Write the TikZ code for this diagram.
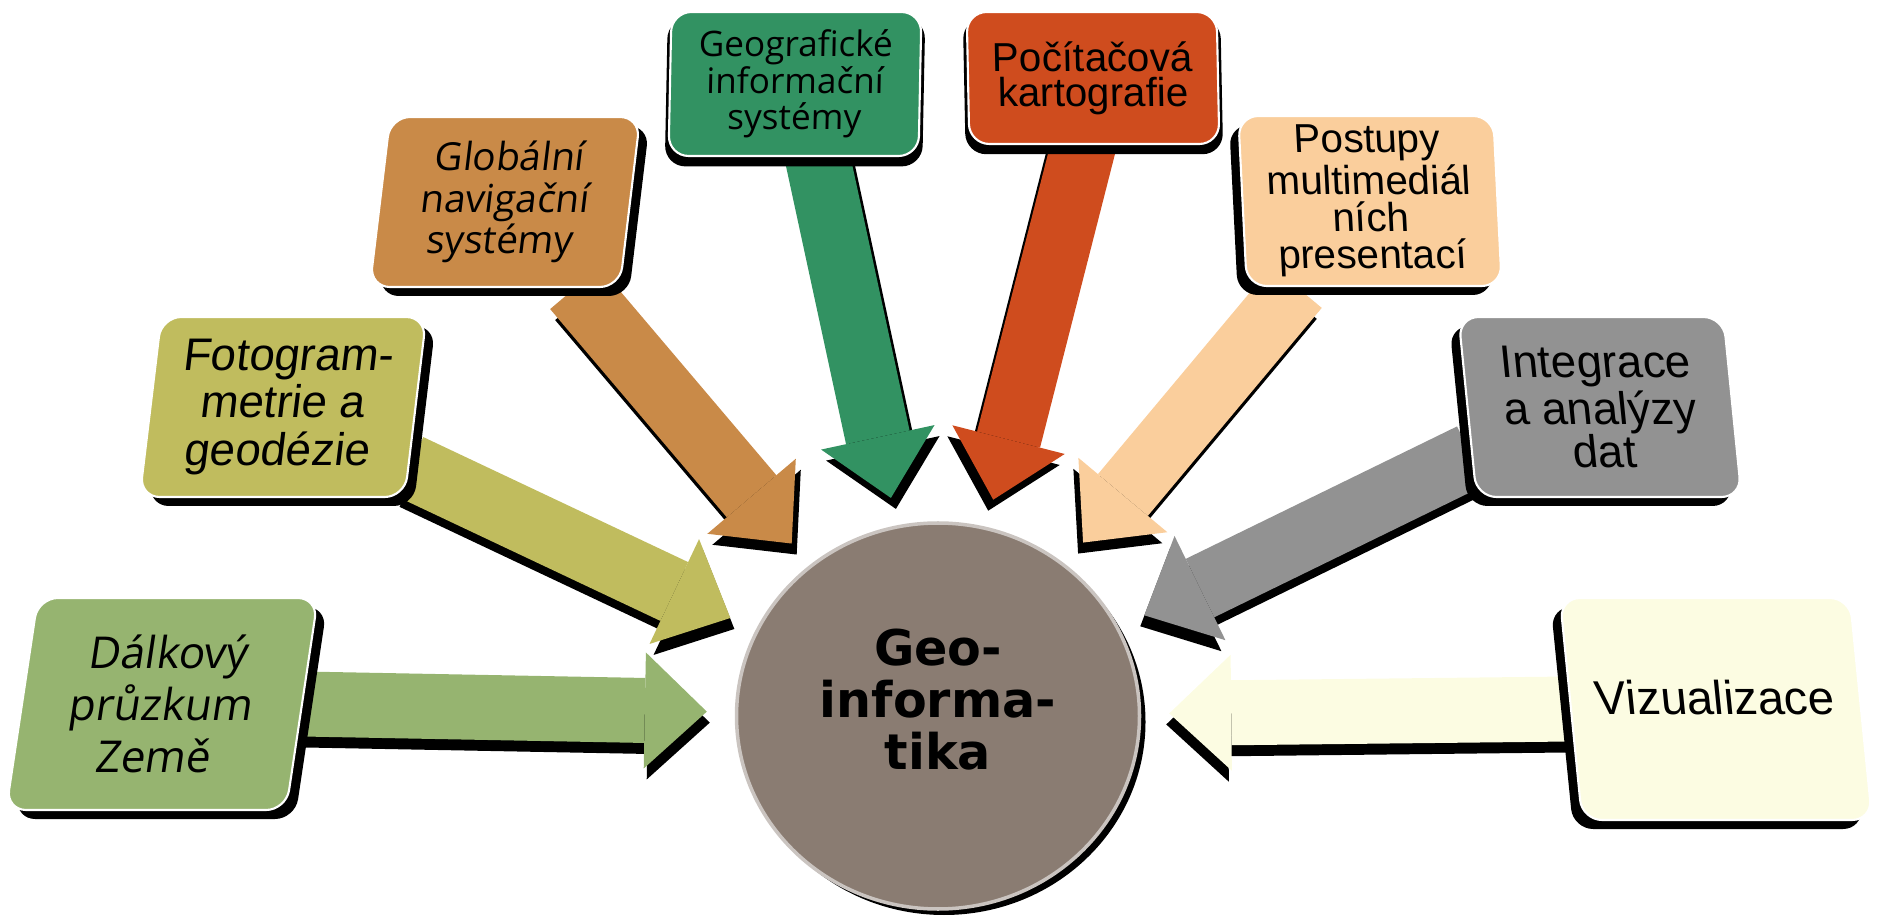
\documentclass[tikz,border=0pt]{standalone}
\usepackage{fontspec}
\setmainfont{Liberation Sans}
\newfontfamily\osfont{Open Sans}
\newfontfamily\geofont{DejaVu Sans}
\usepackage{tikz}
\usetikzlibrary{arrows.meta,shapes.geometric,shadows}
\pgfdeclarelayer{background}
\pgfsetlayers{background,main}

\definecolor{dalkcol}{RGB}{150,180,112}
\definecolor{fotocol}{RGB}{192,188,94}
\definecolor{globcol}{RGB}{201,138,72}
\definecolor{giscol}{RGB}{50,146,98}
\definecolor{kartocol}{RGB}{207,76,30}
\definecolor{multicol}{RGB}{250,206,156}
\definecolor{integcol}{RGB}{146,146,146}
\definecolor{vizucol}{RGB}{252,252,226}
\definecolor{geocol}{RGB}{138,124,114}

\tikzstyle{tile} = [rectangle, rounded corners=2mm, inner sep=0pt, align=center,
draw=white, line width=0.6pt]
\tikzstyle{lefttile} = [tile, drop shadow={shadow xshift=0.9mm, shadow yshift=-0.9mm, fill=black, opacity=1}]
\tikzstyle{righttile} = [tile, drop shadow={shadow xshift=-0.9mm, shadow yshift=-0.9mm, fill=black, opacity=1}]
\tikzstyle{toptile} = [tile, drop shadow={shadow scale=1.03, shadow xshift=0mm, shadow yshift=-0.8mm, fill=black, opacity=1}]
\tikzstyle{spoke} = [line width=6.5mm, shorten >=2.8mm,
-{Triangle[length=6.2mm,width=11.6mm,line width=0pt]}]

\begin{document}
\begin{tikzpicture}[x=0.1mm, y=-0.1mm]
\useasboundingbox (0,0) rectangle (1878,918);

\node[lefttile, fill=dalkcol, xslant=0.15, minimum width=28mm, minimum height=21.2mm,
font=\osfont\fontsize{12.5}{14.8}\selectfont] (dalk) at (162,704) {Dálkový\\průzkum\\Země};
\node[lefttile, fill=fotocol, xslant=0.12, minimum width=26.5mm, minimum height=18mm,
font=\fontsize{13}{13.6}\selectfont] (foto) at (283,407) {Fotogram-\\metrie a\\geodézie};
\node[lefttile, fill=globcol, xslant=0.12, minimum width=25mm, minimum height=17mm,
font=\osfont\fontsize{11}{11.9}\selectfont] (glob) at (505,202) {Globální\\navigační\\systémy};
\node[toptile, fill=giscol, xslant=0.02, minimum width=25mm, minimum height=14.4mm,
font=\osfont\fontsize{10}{10.4}\selectfont] (gis) at (795,84) {Geografické\\informační\\systémy};
\node[toptile, fill=kartocol, xslant=-0.02, minimum width=25mm, minimum height=13.2mm,
font=\fontsize{11.5}{10}\selectfont] (karto) at (1093,78) {Počítačová\\kartografie};
\node[righttile, fill=multicol, xslant=-0.05, minimum width=25.5mm, minimum height=17mm,
font=\fontsize{11.5}{10.6}\selectfont] (multi) at (1370,201) {Postupy\\multimediál\\ních\\presentací};
\node[righttile, fill=integcol, xslant=-0.1, minimum width=26.5mm, minimum height=18mm,
font=\fontsize{13}{12.2}\selectfont] (integ) at (1600,407) {Integrace\\a analýzy\\dat};
\node[righttile, fill=vizucol, xslant=-0.1, minimum width=29mm, minimum height=22.2mm,
text depth=2.4mm, font=\fontsize{13.5}{14}\selectfont] (vizu) at (1716,709) {Vizualizace};

\node[ellipse, fill=geocol, draw=geocol!45!white, line width=1pt, inner sep=0pt,
minimum width=40.3mm, minimum height=38.6mm,
drop shadow={shadow xshift=0.6mm, shadow yshift=-0.6mm, fill=black, opacity=1}] (geo) at (938,716) {};
\node[align=center, font=\geofont\bfseries\fontsize{14}{14.8}\selectfont] (geotext) at (938,700) {Geo-\\informa-\\tika};

\begin{pgfonlayer}{background}
\foreach \src/\dx/\col in {dalk.east/0.3/dalkcol, foto.-24/0.4/fotocol, glob.-47/0.5/globcol,
  gis.-72/0.5/giscol, karto.-99/-0.5/kartocol, multi.-132/-0.5/multicol,
  integ.-160/-0.4/integcol, vizu.west/-0.3/vizucol}
{
  \draw[spoke, black, transform canvas={xshift=\dx mm, yshift=-1.1mm}] (\src) -- (geo);
  \draw[spoke, color=\col] (\src) -- (geo);
}
\end{pgfonlayer}
\end{tikzpicture}
\end{document}
